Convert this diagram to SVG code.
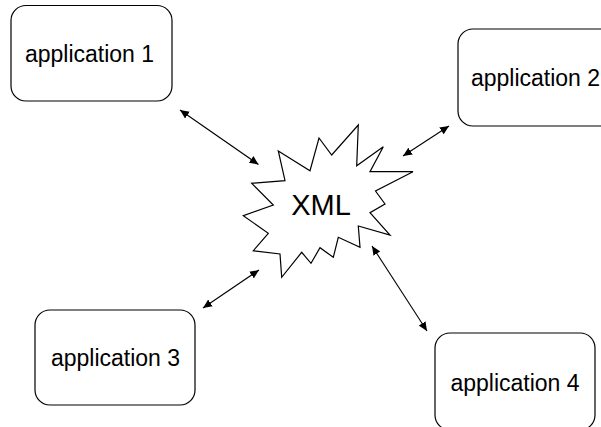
<svg xmlns="http://www.w3.org/2000/svg" width="601" height="427" viewBox="0 0 601 427">
  <style>
    .box { fill: #ffffff; stroke: #000000; stroke-width: 1.2; }
    .label { font-family: "Liberation Sans", Arial, sans-serif; font-size: 23px; fill: #000000; text-anchor: middle; }
    .burst { fill: #ffffff; stroke: #000000; stroke-width: 1.2; stroke-linejoin: miter; }
    .hub { font-family: "Liberation Sans", Arial, sans-serif; font-size: 29px; fill: #000000; text-anchor: middle; }
    .link { stroke: #000000; stroke-width: 1.1; fill: none; marker-start: url(#head); marker-end: url(#head); }
  </style>
  <defs>
    <marker id="head" viewBox="0 0 10 10" refX="10" refY="5" markerWidth="9" markerHeight="9" markerUnits="userSpaceOnUse" orient="auto-start-reverse">
      <path d="M0,0.5 L10,5 L0,9.5 Z" fill="#000000"/>
    </marker>
  </defs>
  <rect width="601" height="427" fill="#ffffff"/>

  <g id="xml">
    <polygon class="burst" points="319,138 331.7,155 358.3,125 356.7,165.7 383.3,146.7 370,171.7 413,171.7 375.5,191 385,204 370,212.7 390,235 358.3,226 360,247.3 338.3,237.3 333.3,257.3 320,247.7 311,263.3 301.7,252.3 281.7,277.3 280,254 253.3,250.7 268.3,233.3 243.3,215.7 273.3,205 251.7,183.3 285,180.7 278.3,151 310,170.7"/>
    <text class="hub" x="321" y="214.5">XML</text>
  </g>

  <g id="app1">
    <rect class="box" x="11" y="5.5" width="161" height="95.5" rx="15" ry="15"/>
    <text class="label" x="89.5" y="61.5">application 1</text>
  </g>

  <g id="app2">
    <rect class="box" x="458" y="29" width="161" height="97" rx="15" ry="15"/>
    <text class="label" x="535.5" y="85.5">application 2</text>
  </g>

  <g id="app3">
    <rect class="box" x="35" y="310" width="160" height="95" rx="15" ry="15"/>
    <text class="label" x="115.5" y="365.5">application 3</text>
  </g>

  <g id="app4">
    <rect class="box" x="435" y="333" width="160" height="97" rx="15" ry="15"/>
    <text class="label" x="515" y="390.5">application 4</text>
  </g>

  <g id="connectors">
    <line class="link" x1="180" y1="110" x2="258.5" y2="164.5"/>
    <line class="link" x1="403" y1="156" x2="449" y2="126"/>
    <line class="link" x1="203" y1="308" x2="259" y2="270"/>
    <line class="link" x1="372" y1="246" x2="427" y2="331"/>
  </g>
</svg>
